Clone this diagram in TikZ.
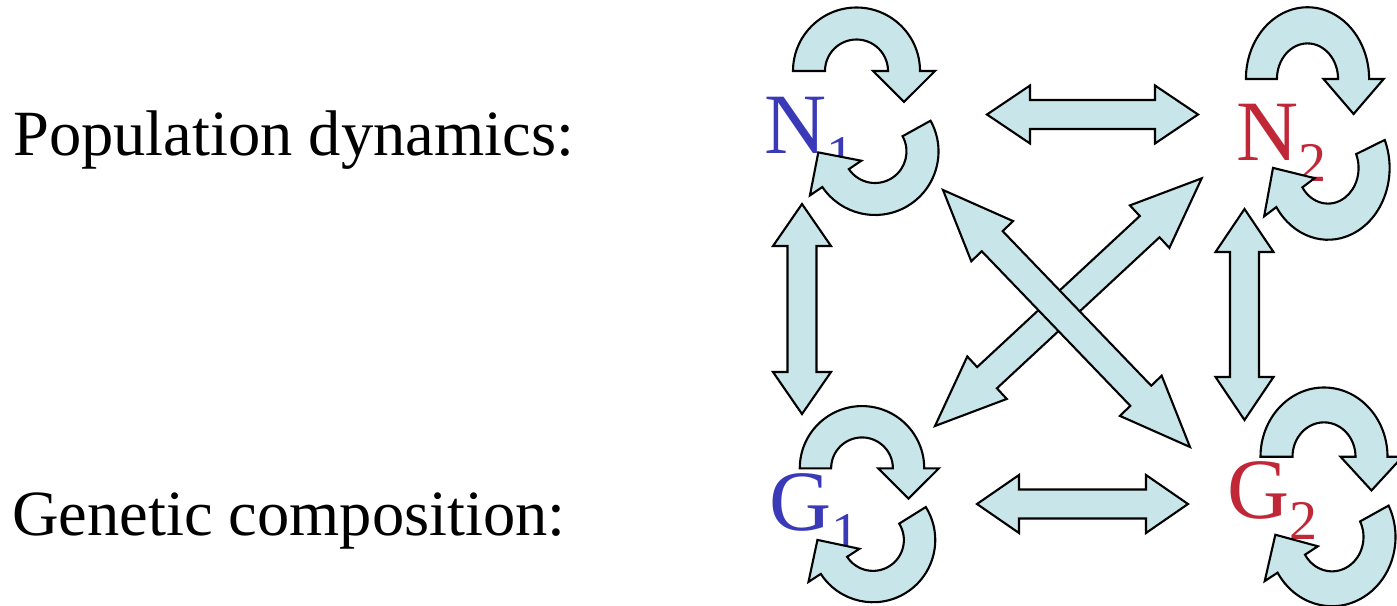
\documentclass[tikz,border=0pt]{standalone}
\usepackage{fontspec}
\setmainfont{Liberation Serif}
\usetikzlibrary{calc}

\definecolor{arrowfill}{HTML}{C8E6E9}
\definecolor{symblue}{HTML}{3A3AB8}
\definecolor{symred}{HTML}{C02838}

\newcommand\sym[2]{#1\raisebox{-21pt}{\fontsize{56}{60}\selectfont #2}}

% fat double arrow between two named coordinates, #3 = head length
\newcommand\dblar[3]{%
  \path[fatar] let \p1=(#1), \p2=(#2),
    \n1={atan2(\y2-\y1,\x2-\x1)}, \n2={veclen(\x2-\x1,\y2-\y1)} in
    {[shift={(\p1)}, rotate=\n1]
    (0,0) -- (#3,29) -- (#3,14.5) -- (\n2-#3,14.5) -- (\n2-#3,29) -- (\n2,0)
    -- (\n2-#3,-29) -- (\n2-#3,-14.5) -- (#3,-14.5) -- (#3,-29) -- cycle};}

% curved self arrow: centre, xscale, yscale, start angle, end angle
\newcommand\selfar[5]{%
  \begin{scope}[shift={#1}, xscale=#2, yscale=#3]
    \path[fatar] (#4:63.5pt) arc[start angle=#4, end angle=#5, radius=63.5pt]
      -- (#5:78.5pt) -- ({#5-33.1}:56.7pt) -- (#5:16.5pt) -- (#5:31.5pt)
      arc[start angle=#5, end angle=#4, radius=31.5pt] -- cycle;
  \end{scope}}

\begin{document}
\begin{tikzpicture}[x=1pt, y=1pt,
    fatar/.style={draw=black, fill=arrowfill, line width=2.1pt, line join=miter},
    rowlabel/.style={anchor=base west, inner sep=0pt, font=\fontsize{64.5}{70}\selectfont},
    symlabel/.style={anchor=base west, inner sep=0pt, font=\fontsize{86}{90}\selectfont}]

    \useasboundingbox (0,0) rectangle (1397,-605);
    \clip (0,0) rectangle (1397,-605);

    \node[rowlabel] (pop) at (13,-155) {Population dynamics:};
    \node[rowlabel] (gen) at (12,-535) {Genetic composition:};

    \node[symlabel, text=symblue] (N1) at (764,-153) {\sym{N}{1}};
    \node[symlabel, text=symred] (N2) at (1236,-160) {\sym{N}{2}};
    \node[symlabel, text=symblue] (G1) at (769,-530) {\sym{G}{1}};
    \node[symlabel, text=symred] (G2) at (1227,-518) {\sym{G}{2}};

    % self loops
    \selfar{(856.5,-71)}{1}{1}{180}{0}
    \selfar{(875,-151.5)}{1}{1}{29}{-146}
    \selfar{(1307.5,-79)}{.97}{1.13}{180}{0}
    \selfar{(1328,-168)}{.97}{1.13}{23}{-147}
    \selfar{(862,-468.3)}{.98}{.98}{180}{0}
    \selfar{(873,-540)}{.98}{.98}{32}{-147}
    \selfar{(1324,-456.7)}{1}{1.09}{180}{0}
    \selfar{(1332,-537)}{1}{1.09}{27}{-149}

    % ends of the double arrows
    \coordinate (n1e) at (987,-114.5);
    \coordinate (n2w) at (1198,-114.5);
    \coordinate (g1e) at (977,-504);
    \coordinate (g2w) at (1188,-504);
    \coordinate (n1s) at (802,-204);
    \coordinate (g1n) at (802,-414);
    \coordinate (n2s) at (1244.5,-209);
    \coordinate (g2n) at (1244.5,-420);
    \coordinate (g1ne) at (935,-426);
    \coordinate (n2sw) at (1201.7,-178.3);
    \coordinate (n1se) at (943,-190);
    \coordinate (g2nw) at (1190,-447);

    \dblar{n1e}{n2w}{43}
    \dblar{g1e}{g2w}{42}
    \dblar{n1s}{g1n}{42}
    \dblar{n2s}{g2n}{43}
    \dblar{g1ne}{n2sw}{71}
    \dblar{n1se}{g2nw}{71}
\end{tikzpicture}
\end{document}
